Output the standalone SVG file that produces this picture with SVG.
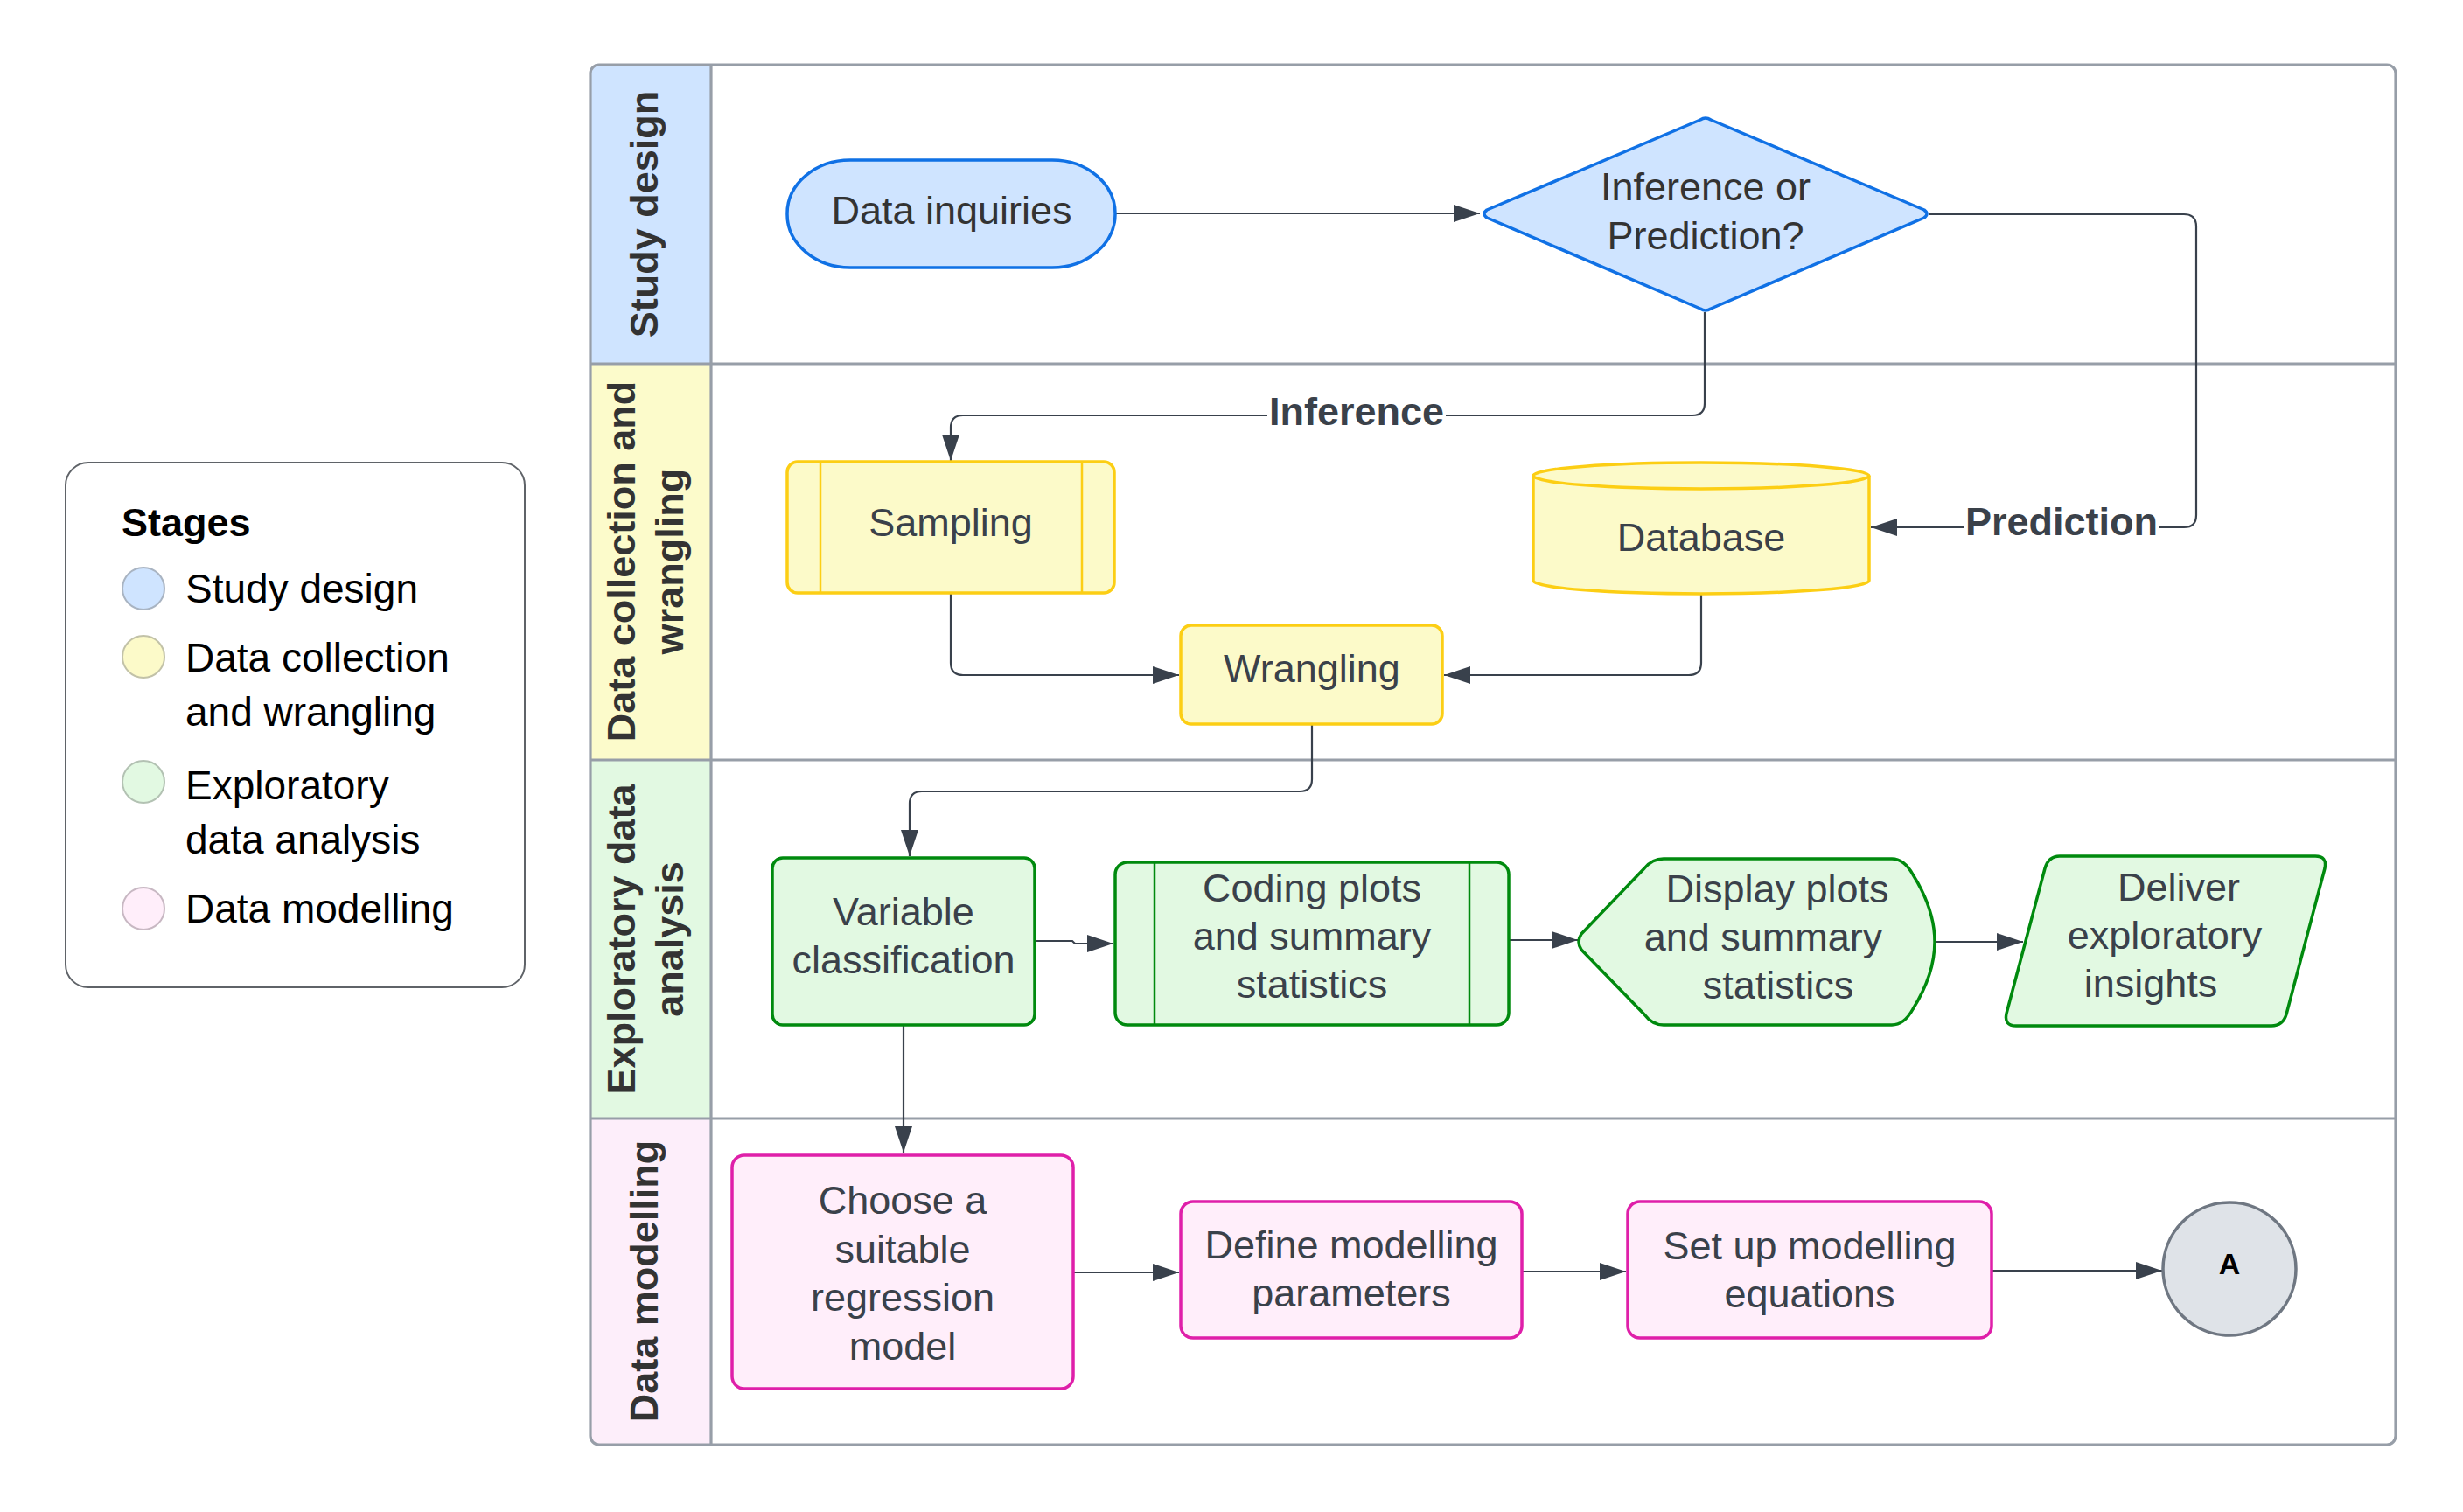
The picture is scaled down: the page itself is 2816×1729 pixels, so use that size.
<svg xmlns="http://www.w3.org/2000/svg" width="2816" height="1729" viewBox="0 0 2816 1729">
<style>
  text { font-family: "Liberation Sans", Arial, sans-serif; }
  .nt { font-size: 45px; fill: #3a414a; text-anchor: middle; }
  .nt2 { font-size: 45px; fill: #333333; text-anchor: middle; }
  .lane { font-size: 45px; font-weight: bold; fill: #333333; text-anchor: middle; }
  .lbl { font-size: 45px; font-weight: bold; fill: #3a414a; text-anchor: middle; }
  .leg { font-size: 46px; fill: #000000; }
  .conn { fill: none; stroke: #39414c; stroke-width: 2.2; }
  .blue { fill: #cfe4ff; stroke: #1071e5; stroke-width: 3.5; }
  .yellow { fill: #fcfac9; stroke: #fcce14; stroke-width: 3.5; }
  .green { fill: #e2f9e2; stroke: #008a0e; stroke-width: 3.5; }
  .pink { fill: #ffeefa; stroke: #df1fa9; stroke-width: 3.5; }
  .inner-y { stroke: #fcce14; stroke-width: 2.5; }
  .inner-g { stroke: #008a0e; stroke-width: 2.5; }
  .lanebox { fill: none; stroke: #979ea8; stroke-width: 3.2; }
</style>
<defs>
  <marker id="arr" markerUnits="userSpaceOnUse" markerWidth="30" markerHeight="20" refX="30" refY="10" orient="auto">
    <path d="M0,0 L30,10 L0,20 Z" fill="#39414c"/>
  </marker>
</defs>
<rect x="0" y="0" width="2816" height="1729" fill="#ffffff"/>

<!-- Legend -->
<g id="legend">
  <rect x="75" y="529" width="525" height="600" rx="26" fill="#ffffff" stroke="#5f6368" stroke-width="2"/>
  <text x="139" y="613" style="font-size:45px;font-weight:bold;fill:#000">Stages</text>
  <circle cx="164" cy="673" r="24" fill="#cfe4ff" stroke="#a9b4c2" stroke-width="2"/>
  <text class="leg" x="212" y="689">Study design</text>
  <circle cx="164" cy="751" r="24" fill="#fcfac9" stroke="#c2c2a8" stroke-width="2"/>
  <text class="leg" x="212" y="768">Data collection</text>
  <text class="leg" x="212" y="830">and wrangling</text>
  <circle cx="164" cy="894" r="24" fill="#e2f9e2" stroke="#b3c2b3" stroke-width="2"/>
  <text class="leg" x="212" y="914">Exploratory</text>
  <text class="leg" x="212" y="976">data analysis</text>
  <circle cx="164" cy="1039" r="24" fill="#ffeefa" stroke="#c8b8c3" stroke-width="2"/>
  <text class="leg" x="212" y="1055">Data modelling</text>
</g>

<!-- Pool / lanes -->
<g id="pool">
  <path d="M813,74 H685 Q675,74 675,84 V416 H813 Z" fill="#cfe4ff"/>
  <rect x="675" y="416" width="138" height="453" fill="#fcfbcb"/>
  <rect x="675" y="869" width="138" height="410" fill="#e2f9e2"/>
  <path d="M675,1279 H813 V1652 H685 Q675,1652 675,1642 Z" fill="#fdeefa"/>
  <rect class="lanebox" x="675" y="74" width="2064" height="1578" rx="10"/>
  <line class="lanebox" x1="813" y1="74" x2="813" y2="1652"/>
  <line class="lanebox" x1="675" y1="416" x2="2739" y2="416"/>
  <line class="lanebox" x1="675" y1="869" x2="2739" y2="869"/>
  <line class="lanebox" x1="675" y1="1279" x2="2739" y2="1279"/>
  <g id="lane-study">
    <text class="lane" transform="translate(752,245) rotate(-90)">Study design</text>
  </g>
  <g id="lane-collection">
    <text class="lane" transform="translate(726,642) rotate(-90)">Data collection and</text>
    <text class="lane" transform="translate(781,642) rotate(-90)">wrangling</text>
  </g>
  <g id="lane-eda">
    <text class="lane" transform="translate(726,1074) rotate(-90)">Exploratory data</text>
    <text class="lane" transform="translate(781,1074) rotate(-90)">analysis</text>
  </g>
  <g id="lane-modelling">
    <text class="lane" transform="translate(752,1465) rotate(-90)">Data modelling</text>
  </g>
</g>

<!-- Connectors -->
<g id="connectors">
  <path class="conn" d="M1275,244 H1692" marker-end="url(#arr)"/>
  <path class="conn" d="M1949,357 V461 Q1949,475 1935,475 H1101 Q1087,475 1087,489 V527" marker-end="url(#arr)"/>
  <path class="conn" d="M2206,245 H2497 Q2511,245 2511,259 V589 Q2511,603 2497,603 H2139" marker-end="url(#arr)"/>
  <path class="conn" d="M1087,678 V758 Q1087,772 1101,772 H1348" marker-end="url(#arr)"/>
  <path class="conn" d="M1945,679 V758 Q1945,772 1931,772 H1651" marker-end="url(#arr)"/>
  <path class="conn" d="M1500,828 V891 Q1500,905 1486,905 H1054 Q1040,905 1040,919 V979" marker-end="url(#arr)"/>
  <path class="conn" d="M1183,1076 H1226 L1229,1079 H1273" marker-end="url(#arr)"/>
  <path class="conn" d="M1725,1075 H1804" marker-end="url(#arr)"/>
  <path class="conn" d="M2214,1077 H2313" marker-end="url(#arr)"/>
  <path class="conn" d="M1033,1172 V1318" marker-end="url(#arr)"/>
  <path class="conn" d="M1227,1455 H1348" marker-end="url(#arr)"/>
  <path class="conn" d="M1740,1454 H1859" marker-end="url(#arr)"/>
  <path class="conn" d="M2278,1453 H2472" marker-end="url(#arr)"/>
  <rect x="1449" y="450" width="204" height="46" fill="#ffffff"/>
  <text class="lbl" x="1551" y="486">Inference</text>
  <rect x="2245" y="578" width="224" height="46" fill="#ffffff"/>
  <text class="lbl" x="2357" y="612">Prediction</text>
</g>

<!-- Nodes -->
<g id="data-inquiries">
  <rect class="blue" x="900" y="183" width="375" height="123" rx="72" ry="61"/>
  <text class="nt2" x="1088" y="256">Data inquiries</text>
</g>
<g id="inference-or-prediction">
  <path class="blue" stroke-linejoin="round" d="M1700,240 L1944,137 Q1950,133 1956,137 L2200,240 Q2206,244.5 2200,249 L1956,353 Q1950,357 1944,353 L1700,249 Q1694,244.5 1700,240 Z"/>
  <text class="nt2" x="1950" y="229">Inference or</text>
  <text class="nt2" x="1950" y="285">Prediction?</text>
</g>
<g id="sampling">
  <rect class="yellow" x="900" y="528" width="374" height="150" rx="12"/>
  <line class="inner-y" x1="938" y1="528" x2="938" y2="678"/>
  <line class="inner-y" x1="1237" y1="528" x2="1237" y2="678"/>
  <text class="nt" x="1087" y="613">Sampling</text>
</g>
<g id="database">
  <path class="yellow" d="M1753,544 A192,15 0 0 1 2137,544 V664 A192,15 0 0 1 1753,664 Z"/>
  <path fill="none" stroke="#fcce14" stroke-width="3.5" d="M1753,544 A192,15 0 0 0 2137,544"/>
  <text class="nt" x="1945" y="630">Database</text>
</g>
<g id="wrangling">
  <rect class="yellow" x="1350" y="715" width="299" height="113" rx="12"/>
  <text class="nt" x="1500" y="780">Wrangling</text>
</g>
<g id="variable-classification">
  <rect class="green" x="883" y="981" width="300" height="191" rx="12"/>
  <text class="nt" x="1033" y="1058">Variable</text>
  <text class="nt" x="1033" y="1113">classification</text>
</g>
<g id="coding-plots">
  <rect class="green" x="1275" y="986" width="450" height="186" rx="14"/>
  <line class="inner-g" x1="1320" y1="986" x2="1320" y2="1172"/>
  <line class="inner-g" x1="1680" y1="986" x2="1680" y2="1172"/>
  <text class="nt" x="1500" y="1031">Coding plots</text>
  <text class="nt" x="1500" y="1086">and summary</text>
  <text class="nt" x="1500" y="1141">statistics</text>
</g>
<g id="display-plots">
  <path class="green" stroke-linejoin="round" d="M1808,1068 L1880,993 Q1889,982 1902,982 H2163 Q2177,982 2187,1000 Q2212,1040 2212,1077 Q2212,1114 2187,1154 Q2177,1172 2163,1172 H1902 Q1889,1172 1880,1160 L1808,1086 Q1802,1077 1808,1068 Z"/>
  <text class="nt" x="2032" y="1032">Display plots</text>
  <text class="nt" x="2016" y="1087">and summary</text>
  <text class="nt" x="2033" y="1142">statistics</text>
</g>
<g id="deliver-insights">
  <path class="green" stroke-linejoin="round" d="M2355,979 H2647 Q2661,979 2658,993 L2614,1160 Q2610,1173 2597,1173 H2305 Q2291,1173 2294,1159 L2338,993 Q2342,979 2355,979 Z"/>
  <text class="nt" x="2491" y="1030">Deliver</text>
  <text class="nt" x="2475" y="1085">exploratory</text>
  <text class="nt" x="2459" y="1140">insights</text>
</g>
<g id="choose-model">
  <rect class="pink" x="837" y="1321" width="390" height="267" rx="14"/>
  <text class="nt" x="1032" y="1388">Choose a</text>
  <text class="nt" x="1032" y="1444">suitable</text>
  <text class="nt" x="1032" y="1499">regression</text>
  <text class="nt" x="1032" y="1555">model</text>
</g>
<g id="define-parameters">
  <rect class="pink" x="1350" y="1374" width="390" height="156" rx="14"/>
  <text class="nt" x="1545" y="1439">Define modelling</text>
  <text class="nt" x="1545" y="1494">parameters</text>
</g>
<g id="setup-equations">
  <rect class="pink" x="1861" y="1374" width="416" height="156" rx="14"/>
  <text class="nt" x="2069" y="1440">Set up modelling</text>
  <text class="nt" x="2069" y="1495">equations</text>
</g>
<g id="connector-a">
  <circle cx="2549" cy="1451" r="76" fill="#dfe3e8" stroke="#6f7782" stroke-width="3.5"/>
  <text x="2549" y="1457" style="font-size:34px;font-weight:bold;fill:#000;text-anchor:middle">A</text>
</g>
</svg>
